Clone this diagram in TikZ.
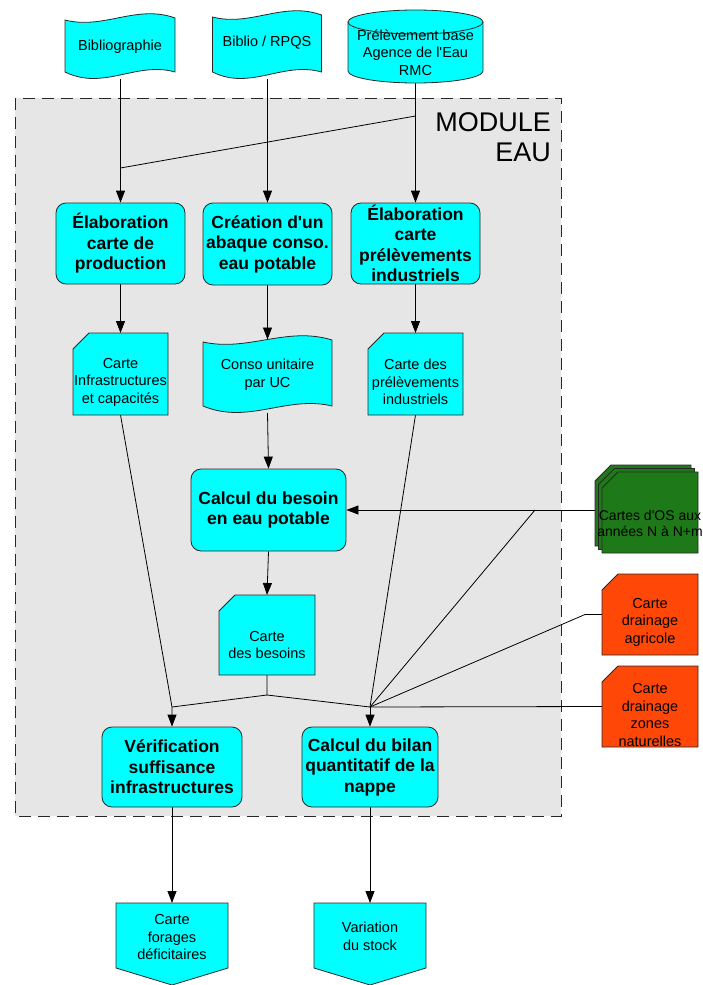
\documentclass[tikz,border=0pt]{standalone}
\usepackage{fontspec}
\setmainfont{Liberation Sans}[Ligatures=TeXOff]
\usetikzlibrary{arrows.meta,calc}
\pgfdeclarelayer{bg}\pgfdeclarelayer{conn}\pgfdeclarelayer{shp}
\pgfsetlayers{bg,conn,shp,main}
\definecolor{cy}{RGB}{0,255,255}
\definecolor{modgrey}{RGB}{230,230,230}
\definecolor{osgreen}{RGB}{30,122,24}
\definecolor{drain}{RGB}{255,72,8}
\definecolor{edge}{RGB}{40,40,40}
\newcommand\cutcard[2]{%
  \path[#2] ([yshift=-16pt]#1.north west) -- ([xshift=16pt]#1.north west) -- (#1.north east) -- (#1.south east) -- (#1.south west) -- cycle;}
\newcommand\tapeshape[1]{%
  \path[shapeline] ([yshift=-6pt]#1.north west)
    .. controls ([yshift=-16pt]$(#1.north west)!0.35!(#1.north east)$) and ([yshift=10pt]$(#1.north west)!0.65!(#1.north east)$) .. ([yshift=-4pt]#1.north east)
    -- ([yshift=7pt]#1.south east)
    .. controls ([yshift=18pt]$(#1.south west)!0.65!(#1.south east)$) and ([yshift=-12pt]$(#1.south west)!0.35!(#1.south east)$) .. ([yshift=7pt]#1.south west) -- cycle;}
\begin{document}
\begin{tikzpicture}[x=1pt,y=-1pt,
  conn/.style={draw=black, line width=0.8pt},
  arr/.style={conn, -{Triangle[length=12pt,width=9pt]}},
  proc/.style={draw=edge, line width=0.8pt, fill=cy, rounded corners=10pt, align=center, inner sep=0pt, font=\bfseries\fontsize{17.5}{20.5}\selectfont},
  frame/.style={draw=none, inner sep=0pt, outer sep=0pt},
  lbl/.style={align=center, inner sep=0pt, font=\fontsize{14.5}{17.5}\selectfont},
  shapeline/.style={draw=edge, line width=0.8pt, fill=cy},
]
\useasboundingbox (0,0) rectangle (702,985);

% ---- nodes / frames
\node[frame, minimum width=110pt, minimum height=65pt] (d1) at (120,46.5) {};
\node[frame, minimum width=109pt, minimum height=68pt] (d2) at (267,45) {};
\node[frame, minimum width=135pt, minimum height=73pt] (cyl) at (415.5,46.5) {};
\node[proc, minimum width=129pt, minimum height=81pt] (p1) at (120.5,243.5) {Élaboration\\carte de\\production};
\node[proc, minimum width=129pt, minimum height=82pt] (p2) at (267.5,244) {Création d'un\\abaque conso.\\eau potable};
\node[proc, minimum width=129pt, minimum height=81pt] (p3) at (415.5,243.5) {Élaboration\\carte\\prélèvements\\industriels};
\node[frame, minimum width=95pt, minimum height=82pt] (c1) at (120.5,374) {};
\node[frame, minimum width=129pt, minimum height=77pt] (d3) at (267.5,374.5) {};
\node[frame, minimum width=95pt, minimum height=82pt] (c3) at (415.5,374) {};
\node[proc, minimum width=155pt, minimum height=82pt] (calc) at (268.5,510) {Calcul du besoin\\en eau potable};
\node[frame, minimum width=96pt, minimum height=80pt] (cb) at (267,635) {};
\node[frame, minimum width=96pt, minimum height=81pt] (g1) at (643,505.5) {};
\node[frame, minimum width=96pt, minimum height=81pt] (g2) at (646.5,509) {};
\node[frame, minimum width=96pt, minimum height=81pt] (g) at (650,512.5) {};
\node[frame, minimum width=96pt, minimum height=81pt] (o1) at (650,614.5) {};
\node[frame, minimum width=96pt, minimum height=81pt] (o2) at (650,706.5) {};
\node[proc, minimum width=140pt, minimum height=80pt] (verif) at (172,767) {Vérification\\suffisance\\infrastructures};
\node[proc, minimum width=136pt, minimum height=80pt] (bilan) at (370,767) {Calcul du bilan\\quantitatif de la\\nappe};
\node[frame, minimum width=112pt, minimum height=82pt] (f1) at (172,944) {};
\node[frame, minimum width=112pt, minimum height=82pt] (f2) at (370,944) {};

\coordinate (j0) at (415.5,116);
\coordinate (j1) at (120.5,168);
\coordinate (jg) at (535,510);
\coordinate (ja) at (585,614.5);
\coordinate (jv) at (172,707);
\coordinate (jb) at (370,707);
\coordinate (jc) at (267,695);

% ---- texts
\node[lbl] (td1) at (d1.center) {Bibliographie};
\node[lbl] (td2) at (267,43) {Biblio / RPQS};
\node[lbl] (tcyl) at (415.5,52.5) {Prélèvement base\\Agence de l'Eau\\RMC};
\node[lbl] (tc1) at (120.5,382) {Carte\\Infrastructures\\et capacités};
\node[lbl] (td3) at (267.5,374.5) {Conso unitaire\\par UC};
\node[lbl] (tc3) at (415.5,382) {Carte des\\prélèvements\\industriels};
\node[lbl] (tcb) at (267,645) {Carte\\des besoins};
\node[lbl, font=\fontsize{14}{16}\selectfont] (tg) at (650,523) {Cartes d'OS aux\\années N à N+m};
\node[lbl] (to1) at (650,622) {Carte\\drainage\\agricole};
\node[lbl] (to2) at (650,715) {Carte\\drainage\\zones\\naturelles};
\node[lbl] (tf1) at (172,937) {Carte\\forages\\déficitaires};
\node[lbl] (tf2) at (370,936.5) {Variation\\du stock};
\node[anchor=north east, align=right, inner sep=0pt, font=\fontsize{27}{30}\selectfont] (mod) at (551,112) {MODULE\\EAU};

% ---- module background
\begin{pgfonlayer}{bg}
\path[draw=edge, line width=1pt, dash pattern=on 12pt off 7pt, fill=modgrey] (15,98) rectangle (561,816);
\end{pgfonlayer}

% ---- connectors
\begin{pgfonlayer}{conn}
\draw[arr] (p1.north |- d1.south) -- (p1.north);
\draw[conn] (j0) -- (j1);
\draw[arr] (p2.north |- d2.south) -- (p2.north);
\draw[arr] (cyl.south) -- (p3.north);
\draw[arr] (p1.south) -- (c1.north);
\draw[arr] (p2.south) -- ([yshift=-3.5pt]d3.north);
\draw[arr] (p3.south) -- (c3.north);
\draw[arr] (d3.south) -- (calc.north);
\draw[arr] (calc.south) -- (cb.north);
\draw[arr] (g.west |- calc.east) -- (calc.east);
\draw[conn] (jg) -- (jb);
\draw[conn] (o1.west) -- (ja) -- (jb);
\draw[conn] (o2.west) -- (jb);
\draw[conn] (c3.south) -- (jb);
\draw[arr] (jb) -- (bilan.north);
\draw[conn] (cb.south) -- (jc) -- (jv);
\draw[conn] (jc) -- (jb);
\draw[arr] (c1.south) -- (jv) -- (verif.north);
\draw[arr] (verif.south) -- (f1.north);
\draw[arr] (bilan.south) -- (f2.north);
\end{pgfonlayer}

% ---- custom shapes
\begin{pgfonlayer}{shp}
\tapeshape{d1}
\tapeshape{d2}
\tapeshape{d3}
\path[shapeline] ([yshift=-12pt]cyl.north west) -- ([yshift=12pt]cyl.south west)
  arc[start angle=180, end angle=360, x radius=67.5pt, y radius=12pt]
  -- ([yshift=-12pt]cyl.north east)
  arc[start angle=0, end angle=180, x radius=67.5pt, y radius=12pt] -- cycle;
\draw[draw=edge, line width=0.8pt] ([yshift=-12pt]cyl.north west) arc[start angle=180, end angle=360, x radius=67.5pt, y radius=12pt];
\cutcard{c1}{shapeline}
\cutcard{c3}{shapeline}
\cutcard{cb}{shapeline}
\cutcard{g1}{shapeline, fill=osgreen}
\cutcard{g2}{shapeline, fill=osgreen}
\cutcard{g}{shapeline, fill=osgreen}
\cutcard{o1}{shapeline, fill=drain}
\cutcard{o2}{shapeline, fill=drain}
\path[shapeline] (f1.north west) -- (f1.north east) -- ([yshift=17pt]f1.south east) -- (f1.south) -- ([yshift=17pt]f1.south west) -- cycle;
\path[shapeline] (f2.north west) -- (f2.north east) -- ([yshift=17pt]f2.south east) -- (f2.south) -- ([yshift=17pt]f2.south west) -- cycle;
\end{pgfonlayer}
\end{tikzpicture}
\end{document}
